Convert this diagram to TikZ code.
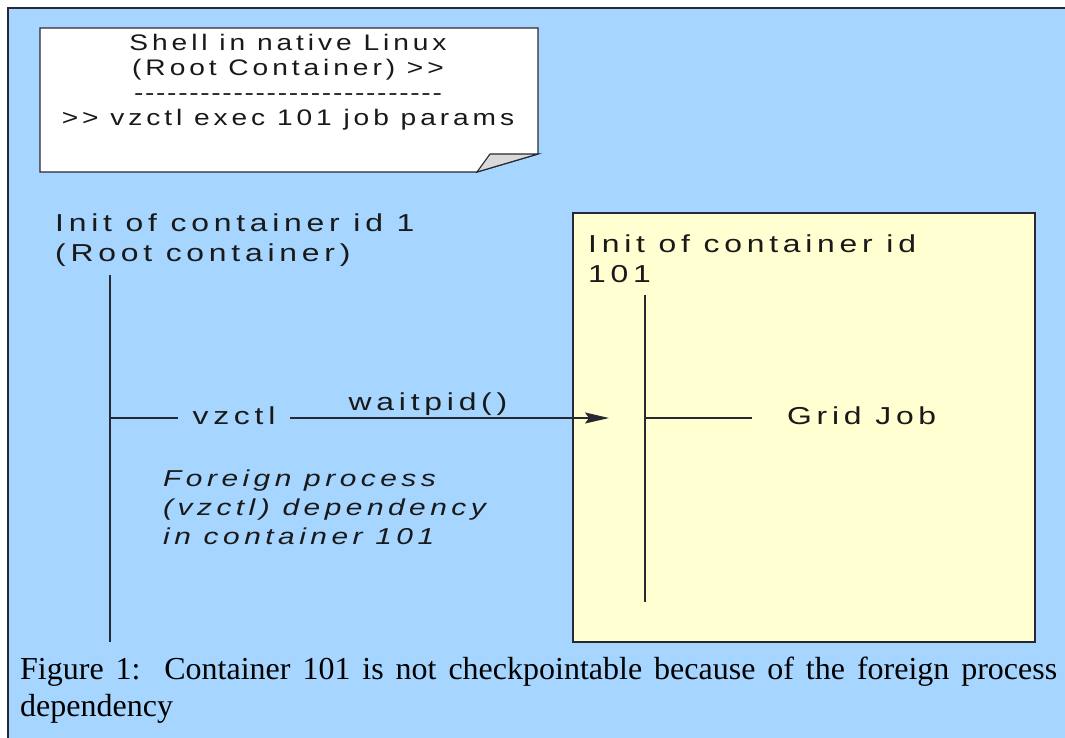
\documentclass[tikz,border=0pt]{standalone}
\usepackage{fontspec}
\usepackage{graphicx}
\usetikzlibrary{arrows.meta}
\newfontfamily\dsans[LetterSpace=15]{Liberation Sans}
\newfontfamily\nsans[LetterSpace=14]{Liberation Sans}
\newfontfamily\plainsans[LetterSpace=6]{Liberation Sans}
\newfontfamily\capfont{Liberation Serif}
\newcommand{\lab}[1]{\scalebox{1.3}[1]{#1}}
\newcommand{\notelab}[1]{\scalebox{1.25}[1]{#1}}
\definecolor{bgblue}{RGB}{166,214,255}
\definecolor{boxyellow}{RGB}{255,255,210}
\definecolor{linegray}{RGB}{40,40,50}
\definecolor{txt}{RGB}{25,25,25}
\tikzset{
  lbl/.style={inner sep=0pt, text=txt, font=\dsans\fontsize{24.5}{28}\selectfont},
  nlbl/.style={inner sep=0pt, text=txt, font=\nsans\fontsize{22.5}{25}\selectfont},
  dlbl/.style={inner sep=0pt, text=txt, font=\plainsans\fontsize{22.5}{25}\selectfont},
  ilbl/.style={lbl, font=\dsans\itshape\fontsize{23}{28}\selectfont},
  life/.style={draw=linegray, line width=1.3pt},
  msg/.style={draw=linegray, line width=1.3pt, -{Stealth[length=24pt,width=11pt,inset=4pt]}},
  capstyle/.style={inner sep=0pt, text=black, anchor=base west, text width=1037pt, align=justify,
    font=\capfont\fontsize{32}{37}\selectfont}
}
\begin{document}
\begin{tikzpicture}[x=1pt,y=-1pt]
\useasboundingbox (0,0) rectangle (1065,738);
% background
\fill[bgblue] (8,8) rectangle (1065,738);
\draw[linegray, line width=1.5pt] (8,738) -- (8,8) -- (1065,8);
% note with folded corner
\draw[linegray, line width=1.3pt, fill=white] (40,28) -- (538,28) -- (538,154) -- (477,172) -- (40,172) -- cycle;
\draw[linegray, line width=1.1pt, fill=black!15] (477,172) -- (490,154) -- (538,154) -- cycle;
\node[nlbl, anchor=base] (n1) at (288,51) {\notelab{Shell in native Linux}};
\node[nlbl, anchor=base] (n2) at (288,76) {\notelab{(Root Container) >>}};
\node[dlbl, anchor=base] (n3) at (288,101) {\notelab{----------------------------}};
\node[nlbl, anchor=base] (n4) at (288,126) {\notelab{>> vzctl exec 101 job params}};
% container 101 box
\draw[linegray, line width=1.3pt, fill=boxyellow] (573,213) rectangle (1035,642);
\node[lbl, anchor=base west] (c101a) at (588,252) {\lab{Init of container id}};
\node[lbl, anchor=base west] (c101b) at (588,282) {\lab{101}};
% root container label
\node[lbl, anchor=base west] (rootA) at (55,231) {\lab{Init of container id 1}};
\node[lbl, anchor=base west] (rootB) at (55,261) {\lab{(Root container)}};
% lifelines
\coordinate (rtop) at (110,275);
\coordinate (rbot) at (110,642);
\coordinate (ctop) at (645,295);
\coordinate (cbot) at (645,602);
\draw[life] (rtop) -- (rbot);
\draw[life] (ctop) -- (cbot);
% messages
\coordinate (rmsg) at (110,418);
\coordinate (cmsg) at (645,418);
\coordinate (tip) at (609,418);
\coordinate (gjl) at (752,418);
\node[lbl, anchor=base] (vz) at (234,424) {\lab{vzctl}};
\coordinate (vzw) at (178,418);
\coordinate (vze) at (290,418);
\draw[life] (rmsg) -- (vzw);
\draw[msg] (vze) -- (tip);
\node[lbl, anchor=base] (wp) at (428,410) {\lab{waitpid()}};
\draw[life] (cmsg) -- (gjl);
\node[lbl, anchor=base west] (gj) at (787,424) {\lab{Grid Job}};
% italic note
\node[ilbl, anchor=base west] (f1) at (163,486) {\lab{Foreign process}};
\node[ilbl, anchor=base west] (f2) at (163,515) {\lab{(vzctl) dependency}};
\node[ilbl, anchor=base west] (f3) at (163,544) {\lab{in container 101}};
% caption
\node[capstyle] (cap) at (20,679) {Figure 1:\ \ Container 101 is not checkpointable because of the foreign process\linebreak dependency};
\end{tikzpicture}
\end{document}
